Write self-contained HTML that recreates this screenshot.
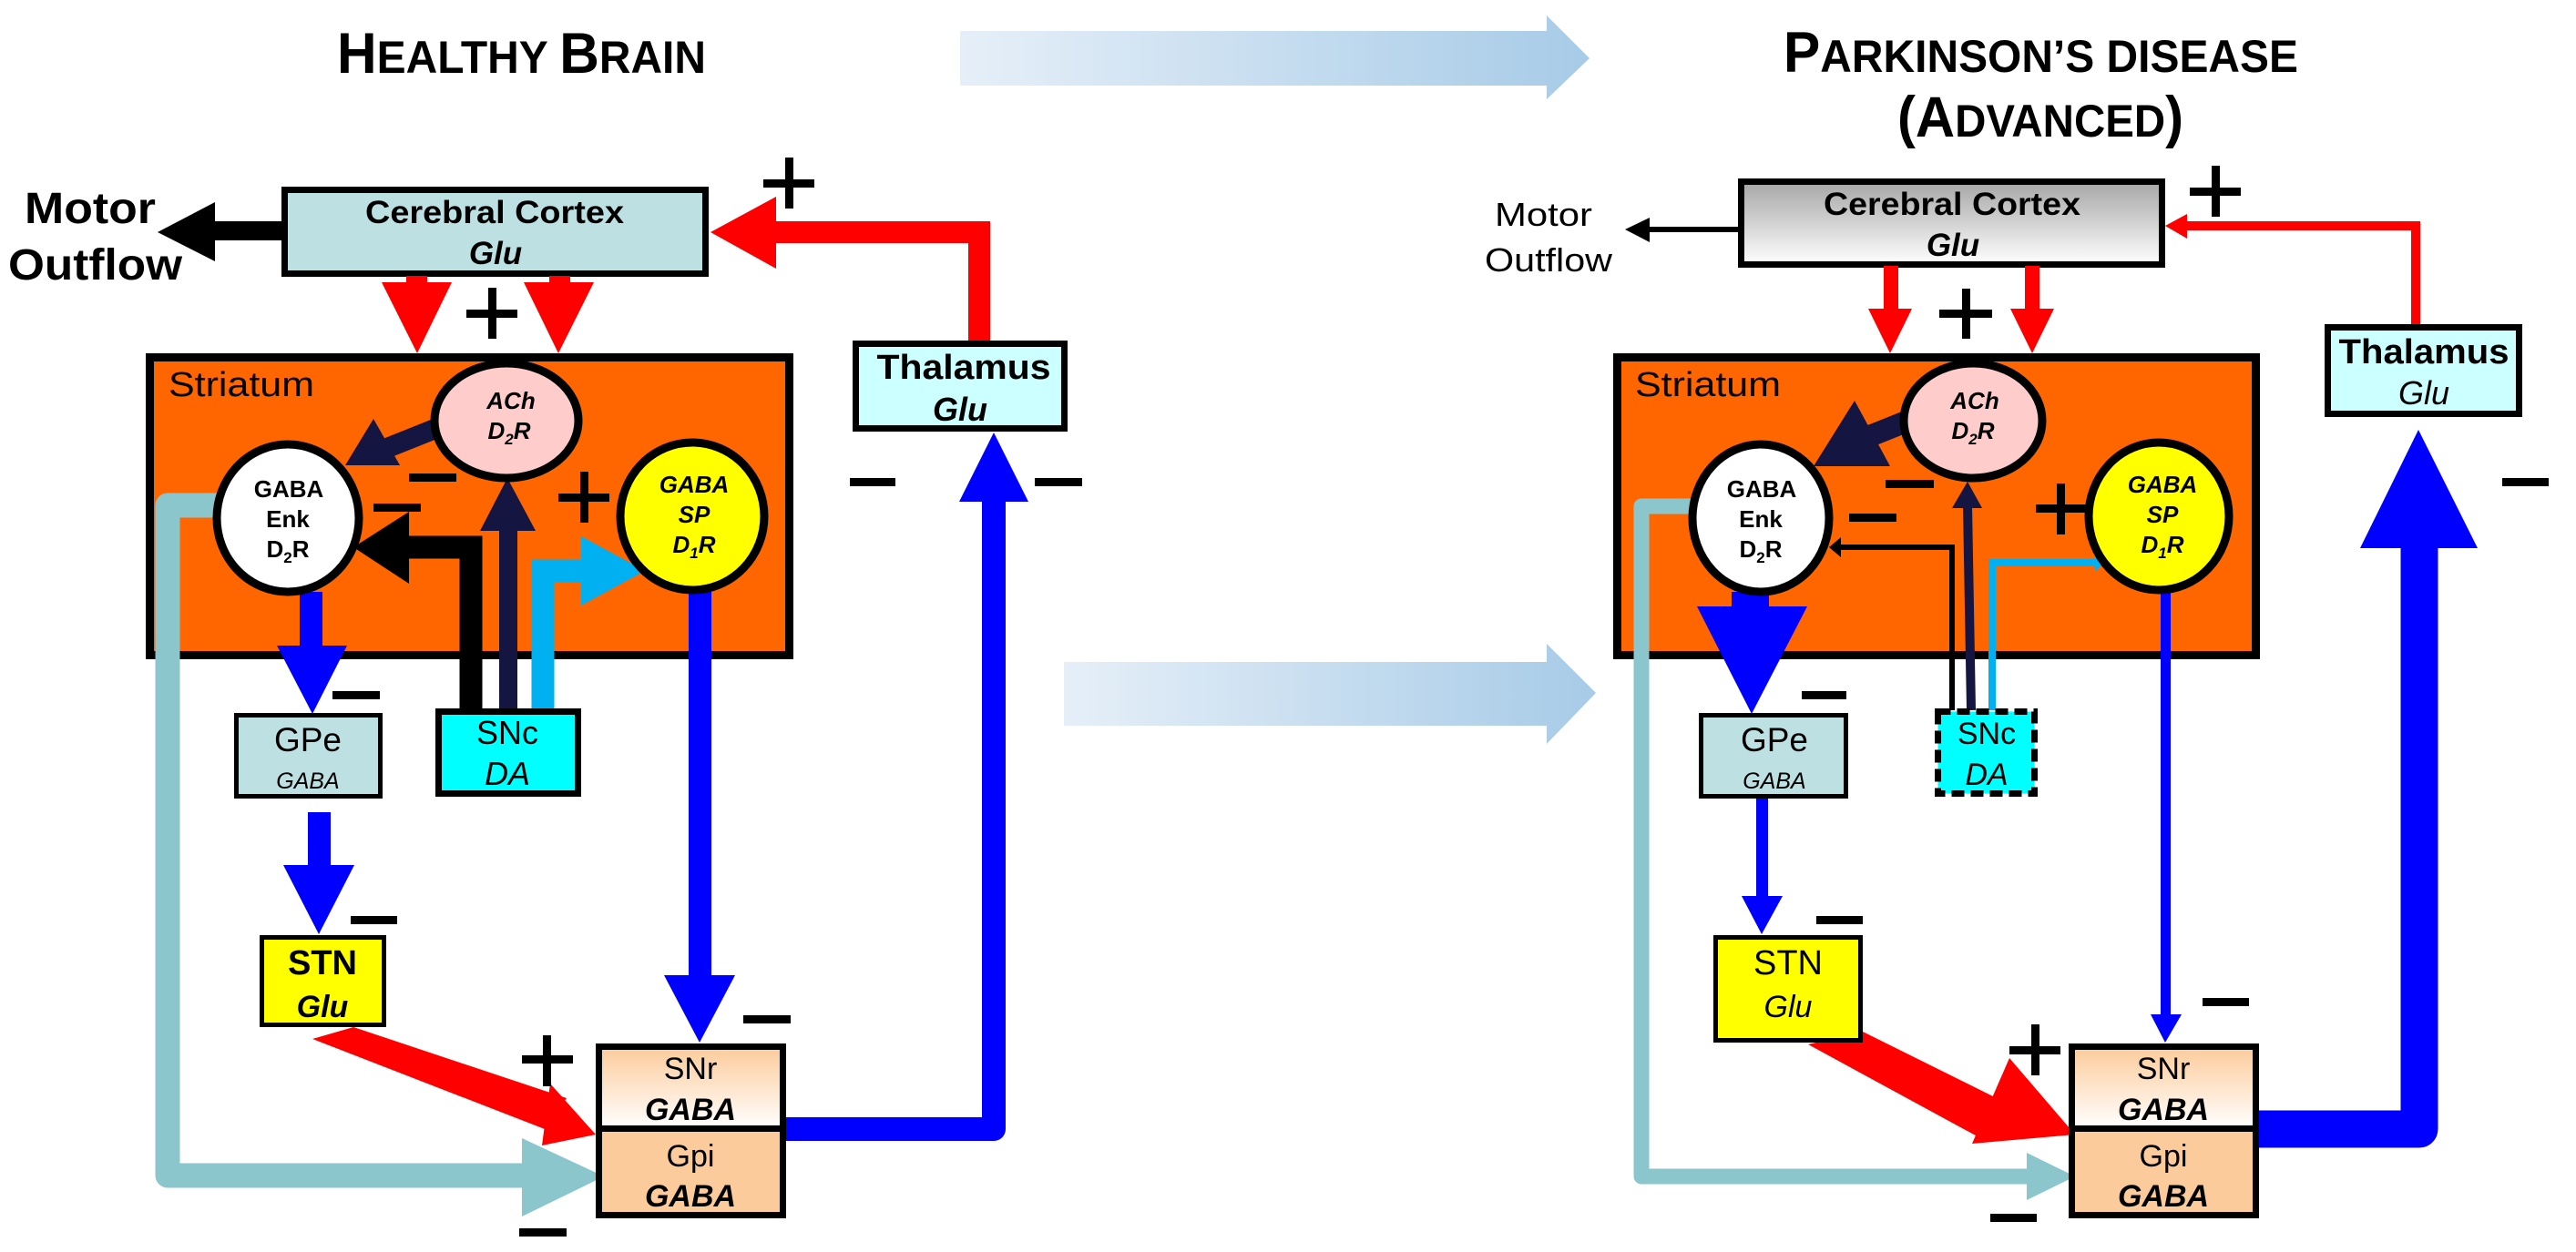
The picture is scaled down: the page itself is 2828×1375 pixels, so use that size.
<!DOCTYPE html>
<html><head><meta charset="utf-8"><style>
html,body{margin:0;padding:0;background:#fff;}
svg{display:block;}
text{font-family:"Liberation Sans",Arial,sans-serif;}
</style></head><body>
<svg width="2828" height="1375" viewBox="0 0 2828 1375" xmlns="http://www.w3.org/2000/svg">
<defs>
<linearGradient id="ga" x1="0" x2="1" y1="0" y2="0"><stop offset="0" stop-color="#E6EFF8"/><stop offset="1" stop-color="#A7CBE7"/></linearGradient>
<linearGradient id="gc" x1="0" x2="0" y1="0" y2="1"><stop offset="0" stop-color="#A6A6A6"/><stop offset="1" stop-color="#FFFFFF"/></linearGradient>
<linearGradient id="gs" x1="0" x2="0" y1="0" y2="1"><stop offset="0" stop-color="#FCCB9B"/><stop offset="1" stop-color="#FFFFFF"/></linearGradient>
</defs>

<!-- gradient arrows -->
<polygon fill="url(#ga)" points="1054,34 1698,34 1698,17 1745,64 1698,109 1698,94 1054,94"/>
<polygon fill="url(#ga)" points="1168,727 1698,727 1698,707 1752,761 1698,817 1698,797 1168,797"/>

<!-- Titles -->
<text x="370" y="80" textLength="405" lengthAdjust="spacingAndGlyphs" font-weight="bold" font-size="63">H<tspan font-size="50">EALTHY </tspan>B<tspan font-size="50">RAIN</tspan></text>
<text x="1958" y="79" textLength="565" lengthAdjust="spacingAndGlyphs" font-weight="bold" font-size="63">P<tspan font-size="50">ARKINSON’S DISEASE</tspan></text>
<text x="2083" y="150" textLength="314" lengthAdjust="spacingAndGlyphs" font-weight="bold" font-size="63">(A<tspan font-size="50">DVANCED</tspan>)</text>

<!-- ================= LEFT PANEL ================= -->
<!-- Motor outflow -->
<text x="27" y="245" textLength="144" lengthAdjust="spacingAndGlyphs" font-weight="bold" font-size="48">Motor</text>
<text x="9" y="307" textLength="191" lengthAdjust="spacingAndGlyphs" font-weight="bold" font-size="48">Outflow</text>
<rect x="234" y="243" width="76" height="21" fill="#000"/>
<polygon points="236,222 173,255 236,287" fill="#000"/>

<!-- thalamus -> cortex red -->
<path d="M1075 376 V255 H850" fill="none" stroke="#F00" stroke-width="24"/>
<polygon points="852,216 780,255 852,295" fill="#F00"/>

<!-- cortex box -->
<rect x="312.5" y="208.5" width="462" height="92" fill="#BDE1E3" stroke="#000" stroke-width="7"/>
<text x="543" y="245" text-anchor="middle" textLength="284" lengthAdjust="spacingAndGlyphs" font-weight="bold" font-size="35">Cerebral Cortex</text>
<text x="544" y="290" text-anchor="middle" font-weight="bold" font-style="italic" font-size="35">Glu</text>

<!-- red down arrows -->
<rect x="446" y="303" width="23" height="9" fill="#F00"/>
<polygon points="419,310 496,310 458,388" fill="#F00"/>
<rect x="603" y="303" width="23" height="9" fill="#F00"/>
<polygon points="575,310 652,310 613,388" fill="#F00"/>

<!-- striatum -->
<rect x="164.5" y="392.5" width="702" height="327" fill="#FF6600" stroke="#000" stroke-width="9"/>
<text x="185" y="435" textLength="160" lengthAdjust="spacingAndGlyphs" font-size="38">Striatum</text>

<!-- teal path -->
<path d="M320 555 H184 V1291 H578" fill="none" stroke="#8BC6CD" stroke-width="27" stroke-linejoin="round"/>
<polygon points="573,1250 663,1292 573,1336" fill="#8BC6CD"/>

<!-- SNc arrows -->
<path d="M517 780 V601 H445" fill="none" stroke="#000" stroke-width="25"/>
<polygon points="449,562 388,601 449,641" fill="#000"/>
<line x1="558" y1="780" x2="558" y2="580" stroke="#151541" stroke-width="20"/>
<polygon points="527,583 557,525 588,583" fill="#151541"/>
<path d="M596 780 V627 H640" fill="none" stroke="#00B0F0" stroke-width="25"/>
<polygon points="638,589 708,627 638,665" fill="#00B0F0"/>

<!-- ACh -> Enk navy -->
<line x1="485" y1="468" x2="420" y2="494" stroke="#151541" stroke-width="22"/>
<polygon points="410,460 379,511 439,511" fill="#151541"/>

<!-- blue arrows -->
<rect x="329" y="650" width="25" height="61" fill="#00F"/>
<polygon points="304,709 381,709 343,784" fill="#00F"/>
<rect x="338" y="892" width="25" height="60" fill="#00F"/>
<polygon points="311,950 389,950 350,1026" fill="#00F"/>
<rect x="756" y="648" width="25" height="425" fill="#00F"/>
<polygon points="729,1071 807,1071 768,1145" fill="#00F"/>
<path d="M860 1240 H1091 V548" fill="none" stroke="#00F" stroke-width="26" stroke-linejoin="round"/>
<polygon points="1053,551 1091,475 1129,551" fill="#00F"/>

<!-- red STN -> Gpi -->
<polygon points="388,1128 343,1141 598,1240 622,1206" fill="#F00"/>
<polygon points="604,1190 654,1246 595,1258" fill="#F00"/>

<!-- ellipses -->
<ellipse cx="556" cy="462" rx="79" ry="63" fill="#FFCCCC" stroke="#000" stroke-width="9"/>
<text x="561" y="449" text-anchor="middle" font-weight="bold" font-style="italic" font-size="26">ACh</text>
<text x="559" y="482" text-anchor="middle" font-weight="bold" font-style="italic" font-size="26">D<tspan font-size="17" dy="6">2</tspan><tspan dy="-6">R</tspan></text>
<ellipse cx="316" cy="569" rx="78" ry="81" fill="#FFFFFF" stroke="#000" stroke-width="9"/>
<text x="317" y="546" text-anchor="middle" font-weight="bold" font-size="26">GABA</text>
<text x="316" y="579" text-anchor="middle" font-weight="bold" font-size="26">Enk</text>
<text x="316" y="612" text-anchor="middle" font-weight="bold" font-size="26">D<tspan font-size="17" dy="6">2</tspan><tspan dy="-6">R</tspan></text>
<ellipse cx="760" cy="567" rx="79" ry="81" fill="#FFFF00" stroke="#000" stroke-width="9"/>
<text x="762" y="541" text-anchor="middle" font-weight="bold" font-style="italic" font-size="26">GABA</text>
<text x="762" y="574" text-anchor="middle" font-weight="bold" font-style="italic" font-size="26">SP</text>
<text x="762" y="607" text-anchor="middle" font-weight="bold" font-style="italic" font-size="26">D<tspan font-size="17" dy="6">1</tspan><tspan dy="-6">R</tspan></text>

<!-- thalamus -->
<rect x="939.5" y="377.5" width="229" height="93" fill="#CCFFFF" stroke="#000" stroke-width="7"/>
<text x="1058" y="416" text-anchor="middle" textLength="191" lengthAdjust="spacingAndGlyphs" font-weight="bold" font-size="38">Thalamus</text>
<text x="1054" y="462" text-anchor="middle" font-weight="bold" font-style="italic" font-size="36">Glu</text>

<!-- GPe -->
<rect x="259.5" y="785.5" width="158" height="89" fill="#BDE1E3" stroke="#000" stroke-width="5"/>
<text x="338" y="825" text-anchor="middle" font-size="37">GPe</text>
<text x="338" y="866" text-anchor="middle" font-style="italic" font-size="25">GABA</text>
<!-- SNc -->
<rect x="481.5" y="781.5" width="153" height="90" fill="#00FFFF" stroke="#000" stroke-width="7"/>
<text x="557" y="817" text-anchor="middle" font-size="36">SNc</text>
<text x="557" y="862" text-anchor="middle" font-style="italic" font-size="36">DA</text>
<!-- STN -->
<rect x="287.5" y="1029.5" width="134" height="96" fill="#FFFF00" stroke="#000" stroke-width="5"/>
<text x="354" y="1070" text-anchor="middle" font-weight="bold" font-size="38">STN</text>
<text x="354" y="1117" text-anchor="middle" font-weight="bold" font-style="italic" font-size="34">Glu</text>
<!-- SNr / Gpi -->
<rect x="657.5" y="1149.5" width="202" height="90" fill="url(#gs)" stroke="#000" stroke-width="7"/>
<rect x="657.5" y="1239.5" width="202" height="95" fill="#FCCB9B" stroke="#000" stroke-width="7"/>
<text x="758" y="1185" text-anchor="middle" font-size="34">SNr</text>
<text x="758" y="1230" text-anchor="middle" font-weight="bold" font-style="italic" font-size="34">GABA</text>
<text x="758" y="1281" text-anchor="middle" font-size="34">Gpi</text>
<text x="758" y="1325" text-anchor="middle" font-weight="bold" font-style="italic" font-size="34">GABA</text>

<!-- signs left -->
<g fill="#000">
<rect x="838" y="197" width="56" height="9"/><rect x="862" y="173" width="9" height="56"/>
<rect x="512" y="340" width="56" height="9"/><rect x="536" y="316" width="9" height="56"/>
<rect x="613" y="542" width="56" height="9"/><rect x="637" y="518" width="9" height="56"/>
<rect x="573" y="1159" width="56" height="9"/><rect x="596" y="1137" width="9" height="56"/>
<rect x="449" y="520" width="52" height="9"/>
<rect x="410" y="553" width="52" height="9"/>
<rect x="365" y="759" width="52" height="9"/>
<rect x="385" y="1006" width="51" height="9"/>
<rect x="816" y="1115" width="52" height="9"/>
<rect x="570" y="1349" width="52" height="9"/>
<rect x="933" y="525" width="50" height="9"/>
<rect x="1136" y="525" width="52" height="9"/>
</g>

<!-- ================= RIGHT PANEL ================= -->
<text x="1641" y="248" textLength="107" lengthAdjust="spacingAndGlyphs" font-size="36">Motor</text>
<text x="1630" y="298" textLength="140" lengthAdjust="spacingAndGlyphs" font-size="36">Outflow</text>
<line x1="1910" y1="252" x2="1805" y2="252" stroke="#000" stroke-width="6"/>
<polygon points="1811,239 1784,252 1811,266" fill="#000"/>

<path d="M2652 358 V248 H2398" fill="none" stroke="#F00" stroke-width="10"/>
<polygon points="2401,235 2377,248 2401,262" fill="#F00"/>

<rect x="1911.5" y="199.5" width="462" height="91" fill="url(#gc)" stroke="#000" stroke-width="7"/>
<text x="2143" y="236" text-anchor="middle" textLength="282" lengthAdjust="spacingAndGlyphs" font-weight="bold" font-size="35">Cerebral Cortex</text>
<text x="2144" y="281" text-anchor="middle" font-weight="bold" font-style="italic" font-size="35">Glu</text>

<rect x="2068" y="292" width="16" height="49" fill="#F00"/>
<polygon points="2051,339 2099,339 2075,388" fill="#F00"/>
<rect x="2223" y="292" width="16" height="49" fill="#F00"/>
<polygon points="2207,339 2255,339 2231,388" fill="#F00"/>

<rect x="1775.5" y="392.5" width="701" height="327" fill="#FF6600" stroke="#000" stroke-width="9"/>
<text x="1795" y="435" textLength="160" lengthAdjust="spacingAndGlyphs" font-size="38">Striatum</text>

<path d="M1858 556 H1802 V1292 H2228" fill="none" stroke="#8BC6CD" stroke-width="17" stroke-linejoin="round"/>
<polygon points="2225,1266 2278,1292 2225,1318" fill="#8BC6CD"/>

<path d="M2143 780 V601 H2012" fill="none" stroke="#000" stroke-width="6"/>
<polygon points="2021,590 2008,601 2021,612" fill="#000"/>
<line x1="2164" y1="780" x2="2160" y2="555" stroke="#151541" stroke-width="10"/>
<polygon points="2143,558 2160,529 2176,558" fill="#151541"/>
<path d="M2187 780 V618 H2302" fill="none" stroke="#00B0F0" stroke-width="8"/>
<polygon points="2300,609 2311,618 2300,627" fill="#00B0F0"/>

<line x1="2095" y1="462" x2="2050" y2="480" stroke="#151541" stroke-width="24"/>
<polygon points="2036,440 1991,512 2075,512" fill="#151541"/>

<rect x="1901" y="650" width="41" height="18" fill="#00F"/>
<polygon points="1863,666 1984,666 1923,784" fill="#00F"/>
<rect x="1928" y="875" width="13" height="111" fill="#00F"/>
<polygon points="1912,984 1957,984 1934,1026" fill="#00F"/>
<rect x="2372" y="648" width="11" height="468" fill="#00F"/>
<polygon points="2361,1114 2395,1114 2377,1145" fill="#00F"/>
<path d="M2476 1240 H2656 V598" fill="none" stroke="#00F" stroke-width="41" stroke-linejoin="round"/>
<polygon points="2591,602 2655,472 2720,602" fill="#00F"/>

<polygon points="1985,1147 2045,1133 2210,1215 2178,1252" fill="#F00"/>
<polygon points="2206,1162 2278,1246 2165,1256" fill="#F00"/>

<ellipse cx="2166" cy="462" rx="76" ry="63" fill="#FFCCCC" stroke="#000" stroke-width="9"/>
<text x="2168" y="449" text-anchor="middle" font-weight="bold" font-style="italic" font-size="26">ACh</text>
<text x="2166" y="482" text-anchor="middle" font-weight="bold" font-style="italic" font-size="26">D<tspan font-size="17" dy="6">2</tspan><tspan dy="-6">R</tspan></text>
<ellipse cx="1933" cy="569" rx="75" ry="81" fill="#FFFFFF" stroke="#000" stroke-width="9"/>
<text x="1934" y="546" text-anchor="middle" font-weight="bold" font-size="26">GABA</text>
<text x="1933" y="579" text-anchor="middle" font-weight="bold" font-size="26">Enk</text>
<text x="1933" y="612" text-anchor="middle" font-weight="bold" font-size="26">D<tspan font-size="17" dy="6">2</tspan><tspan dy="-6">R</tspan></text>
<ellipse cx="2370" cy="567" rx="77" ry="81" fill="#FFFF00" stroke="#000" stroke-width="9"/>
<text x="2374" y="541" text-anchor="middle" font-weight="bold" font-style="italic" font-size="26">GABA</text>
<text x="2374" y="574" text-anchor="middle" font-weight="bold" font-style="italic" font-size="26">SP</text>
<text x="2374" y="607" text-anchor="middle" font-weight="bold" font-style="italic" font-size="26">D<tspan font-size="17" dy="6">1</tspan><tspan dy="-6">R</tspan></text>

<rect x="2555.5" y="359.5" width="210" height="95" fill="#CCFFFF" stroke="#000" stroke-width="7"/>
<text x="2661" y="399" text-anchor="middle" textLength="187" lengthAdjust="spacingAndGlyphs" font-weight="bold" font-size="38">Thalamus</text>
<text x="2661" y="444" text-anchor="middle" font-style="italic" font-size="36">Glu</text>

<rect x="1867.5" y="785.5" width="159" height="89" fill="#BDE1E3" stroke="#000" stroke-width="5"/>
<text x="1948" y="825" text-anchor="middle" font-size="37">GPe</text>
<text x="1948" y="866" text-anchor="middle" font-style="italic" font-size="25">GABA</text>
<rect x="2127.5" y="781.5" width="106" height="90" fill="#00FFFF" stroke="#000" stroke-width="7" stroke-dasharray="14,7"/>
<text x="2181" y="817" text-anchor="middle" font-size="34">SNc</text>
<text x="2181" y="862" text-anchor="middle" font-style="italic" font-size="34">DA</text>
<rect x="1883.5" y="1029.5" width="159" height="113" fill="#FFFF00" stroke="#000" stroke-width="5"/>
<text x="1963" y="1070" text-anchor="middle" font-size="38">STN</text>
<text x="1963" y="1117" text-anchor="middle" font-style="italic" font-size="34">Glu</text>
<rect x="2274.5" y="1149.5" width="202" height="90" fill="url(#gs)" stroke="#000" stroke-width="7"/>
<rect x="2274.5" y="1239.5" width="202" height="95" fill="#FCCB9B" stroke="#000" stroke-width="7"/>
<text x="2375" y="1185" text-anchor="middle" font-size="34">SNr</text>
<text x="2375" y="1230" text-anchor="middle" font-weight="bold" font-style="italic" font-size="34">GABA</text>
<text x="2375" y="1281" text-anchor="middle" font-size="34">Gpi</text>
<text x="2375" y="1325" text-anchor="middle" font-weight="bold" font-style="italic" font-size="34">GABA</text>

<g fill="#000">
<rect x="2404" y="206" width="56" height="9"/><rect x="2428" y="182" width="9" height="56"/>
<rect x="2129" y="340" width="58" height="9"/><rect x="2154" y="317" width="9" height="55"/>
<rect x="2235" y="554" width="60" height="9"/><rect x="2258" y="531" width="9" height="56"/>
<rect x="2206" y="1149" width="56" height="9"/><rect x="2230" y="1125" width="9" height="56"/>
<rect x="2070" y="527" width="53" height="9"/>
<rect x="2030" y="564" width="52" height="9"/>
<rect x="1978" y="759" width="49" height="9"/>
<rect x="1994" y="1006" width="51" height="9"/>
<rect x="2418" y="1096" width="51" height="9"/>
<rect x="2185" y="1333" width="51" height="9"/>
<rect x="2747" y="525" width="51" height="9"/>
</g>
</svg>
</body></html>
